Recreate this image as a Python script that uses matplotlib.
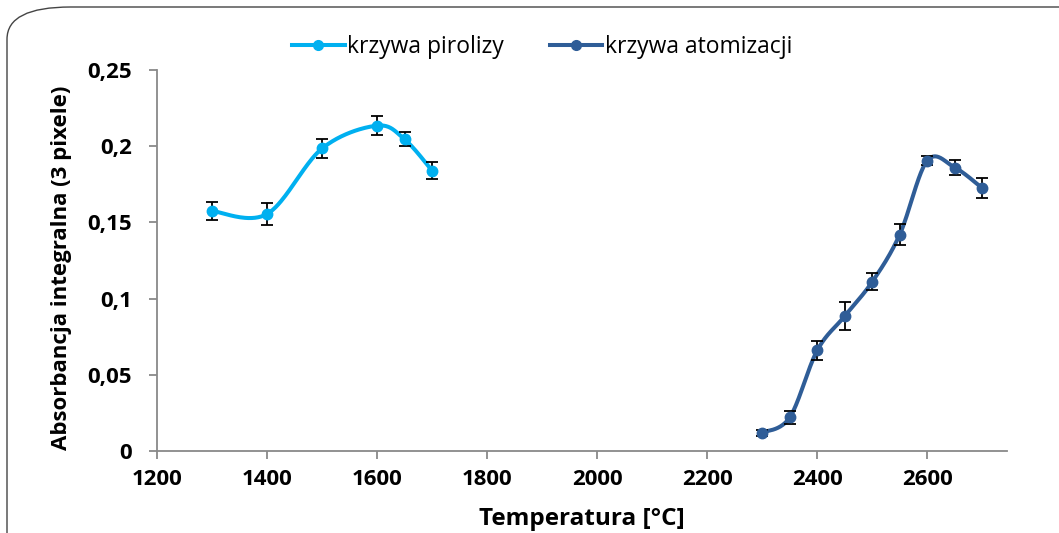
import numpy as np
import matplotlib
matplotlib.use("Agg")
import matplotlib.pyplot as plt
from matplotlib.patches import FancyBboxPatch

# data
pyro_T = [1300, 1400, 1500, 1600, 1650, 1700]
pyro_A = [0.1575, 0.1555, 0.1985, 0.2135, 0.2045, 0.1840]
pyro_err = [0.006, 0.0075, 0.006, 0.006, 0.0045, 0.0055]

atom_T = [2300, 2350, 2400, 2450, 2500, 2550, 2600, 2650, 2700]
atom_A = [0.0120, 0.0220, 0.0660, 0.0885, 0.1110, 0.1420, 0.1905, 0.1860, 0.1725]
atom_err = [0.002, 0.0045, 0.0065, 0.009, 0.0055, 0.007, 0.003, 0.005, 0.0065]

x_ticks = [1200, 1400, 1600, 1800, 2000, 2200, 2400, 2600]
y_ticks = [0, 0.05, 0.1, 0.15, 0.2, 0.25]
y_ticklabels = ["0", "0,05", "0,1", "0,15", "0,2", "0,25"]

legend_labels = ["krzywa pirolizy", "krzywa atomizacji"]
colors = ["#00B0F0", "#2F5D97"]

plt.rcParams['font.family'] = ['Open Sans', 'DejaVu Sans']

W, H = 1059, 533
fig = plt.figure(figsize=(W / 100, H / 100), dpi=100)
ax = fig.add_axes([157 / W, 1 - 451 / H, (1007 - 157) / W, (451 - 70) / H])

XMIN, XMAX = 1200, 2745
YMIN, YMAX = 0, 0.25
ax.set_xlim(XMIN, XMAX)
ax.set_ylim(YMIN, YMAX)

# pixel scale for Excel-like smoothing
sx = (1007 - 157) / (XMAX - XMIN)
sy = (451 - 70) / (YMAX - YMIN)


def smooth(xs, ys, n=40):
    P = np.column_stack([np.asarray(xs, float) * sx, np.asarray(ys, float) * sy])
    P = np.vstack([P[0], P, P[-1]])
    out = []
    t = np.linspace(0, 1, n)
    for i in range(1, len(P) - 2):
        p0, p1, p2, p3 = P[i - 1], P[i], P[i + 1], P[i + 2]
        c1 = p1 + (p2 - p0) / 6.0
        c2 = p2 - (p3 - p1) / 6.0
        seg = ((1 - t)[:, None] ** 3 * p1 + 3 * ((1 - t) ** 2 * t)[:, None] * c1
               + 3 * ((1 - t) * t ** 2)[:, None] * c2 + (t ** 3)[:, None] * p2)
        out.append(seg)
    S = np.vstack(out)
    return S[:, 0] / sx, S[:, 1] / sy


for T, A, E, c, lab in [(pyro_T, pyro_A, pyro_err, colors[0], legend_labels[0]),
                        (atom_T, atom_A, atom_err, colors[1], legend_labels[1])]:
    xs, ys = smooth(T, A)
    ax.plot(xs, ys, color=c, lw=2.9, solid_capstyle='round', zorder=2)
    ax.errorbar(T, A, yerr=E, fmt='none', ecolor='black', elinewidth=1.3,
                capsize=4.5, capthick=1.3, zorder=3)
    ax.plot(T, A, 'o', color=c, markersize=7.5, zorder=4)
    ax.plot([], [], '-o', color=c, lw=2.9, markersize=7, label=lab)

for s in ['top', 'right']:
    ax.spines[s].set_visible(False)
for s in ['left', 'bottom']:
    ax.spines[s].set_color('#898989')
    ax.spines[s].set_linewidth(1.3)

ax.set_xticks(x_ticks)
ax.set_xticklabels([str(v) for v in x_ticks])
ax.set_yticks(y_ticks)
ax.set_yticklabels(y_ticklabels)
ax.tick_params(axis='both', colors='#898989', width=1.3, length=6, labelcolor='black',
               labelsize=16)
ax.tick_params(axis='x', pad=7)
ax.tick_params(axis='y', pad=12)
for lab in ax.get_xticklabels() + ax.get_yticklabels():
    lab.set_fontweight('bold')

fig.text(582 / W, 1 - 519 / H, "Temperatura [°C]", fontsize=17.5, fontweight='bold',
         ha='center', va='center')
fig.text(62 / W, 1 - 268 / H, "Absorbancja integralna (3 pixele)", fontsize=16,
         fontweight='bold', ha='center', va='center', rotation=90)

leg = fig.legend(loc='center', bbox_to_anchor=(542 / W, 1 - 47 / H), ncol=2, frameon=False,
                 fontsize=16.5, handlelength=2.3, handletextpad=0.1, columnspacing=2.0)

border = FancyBboxPatch((7 / W, -0.2), 1.2, 1 - 7 / H + 0.2,
                        boxstyle="round,pad=0,rounding_size=0.06",
                        transform=fig.transFigure, fill=False,
                        edgecolor='#444444', linewidth=1.0, mutation_aspect=H / W * 2)
fig.patches.append(border)

fig.savefig("out.png", dpi=100)
